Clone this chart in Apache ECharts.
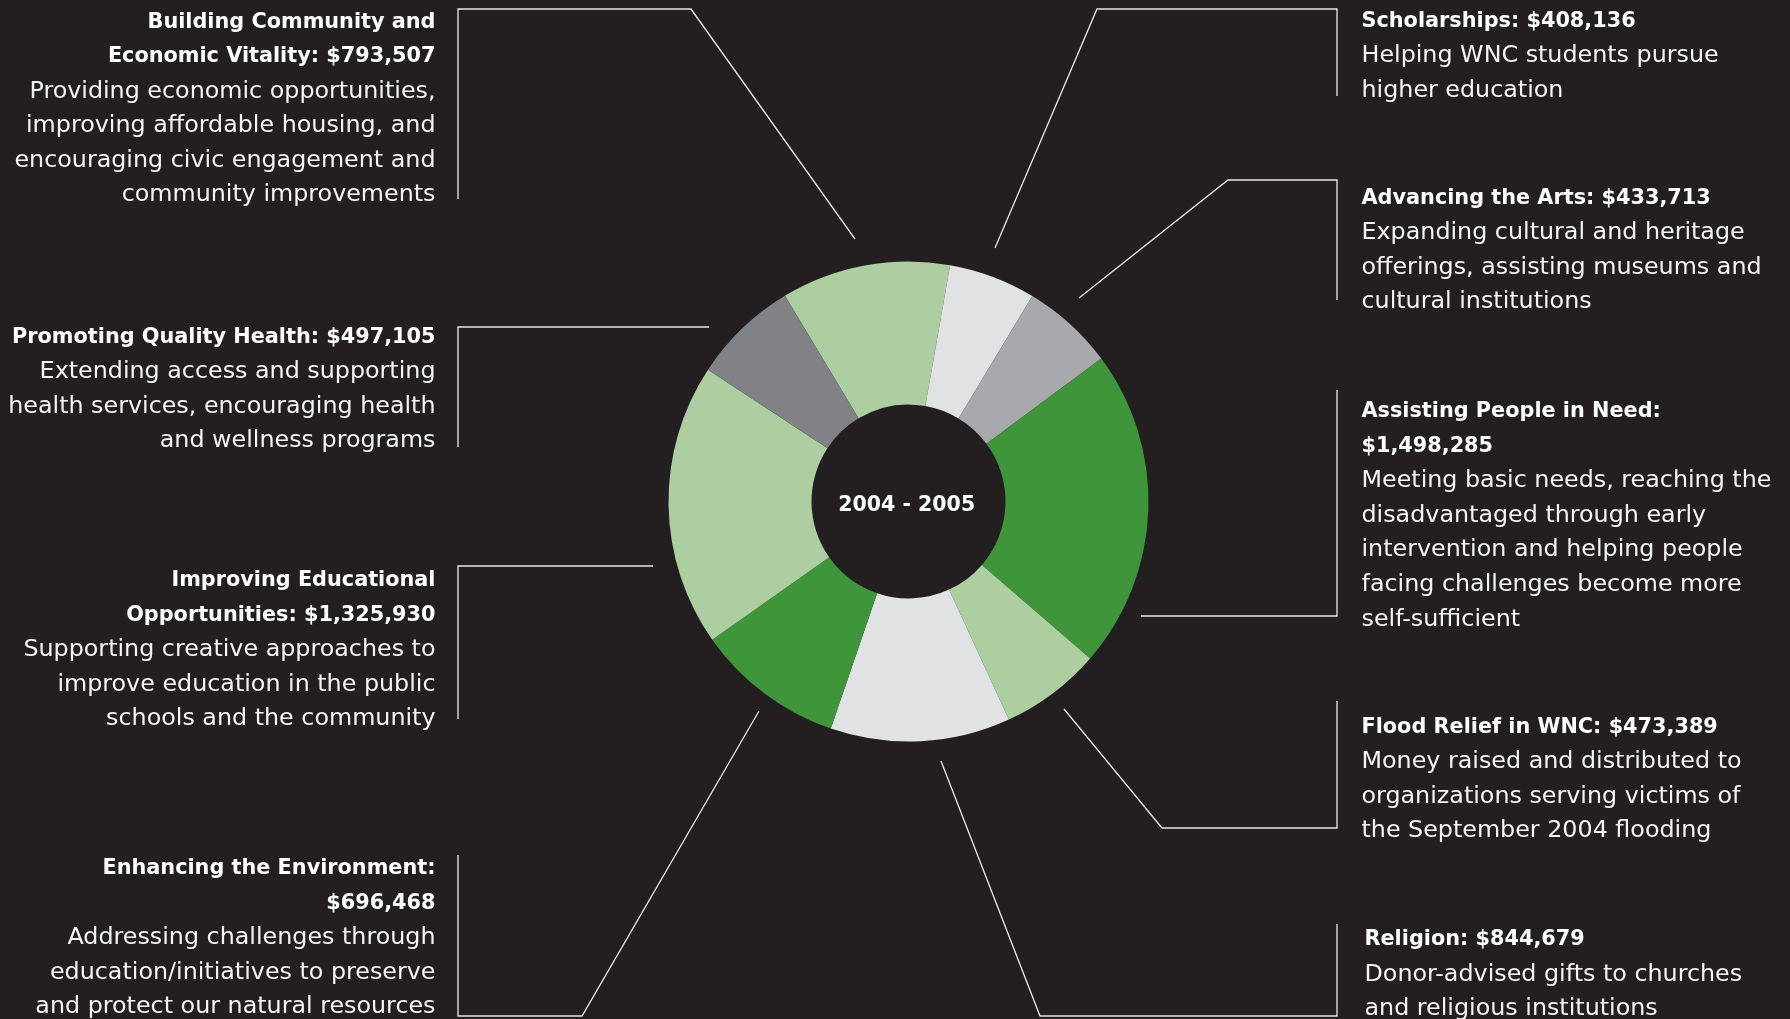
<!DOCTYPE html>
<html>
<head>
<meta charset="utf-8">
<script src="https://cdn.jsdelivr.net/npm/echarts@6/dist/echarts.min.js"></script>
<style>
  html, body { margin: 0; padding: 0; background: #231f20; }
  #chart { width: 1790px; height: 1019px; }
</style>
</head>
<body>
<div id="chart"></div>
<script>
// grant areas, clockwise from the top-left of the ring
const categories = [
  "Building Community and Economic Vitality",
  "Scholarships",
  "Advancing the Arts",
  "Assisting People in Need",
  "Flood Relief in WNC",
  "Religion",
  "Enhancing the Environment",
  "Improving Educational Opportunities",
  "Promoting Quality Health"
];

const amounts = [793507, 408136, 433713, 1498285, 473389, 844679, 696468, 1325930, 497105];

// %v is replaced by the formatted amount
const titles = [
  "Building Community and\nEconomic Vitality: %v",
  "Scholarships: %v",
  "Advancing the Arts: %v",
  "Assisting People in Need:\n%v",
  "Flood Relief in WNC: %v",
  "Religion: %v",
  "Enhancing the Environment:\n%v",
  "Improving Educational\nOpportunities: %v",
  "Promoting Quality Health: %v"
];

const descriptions = [
  ["Providing economic opportunities,", "improving affordable housing, and", "encouraging civic engagement and", "community improvements"],
  ["Helping WNC students pursue", "higher education"],
  ["Expanding cultural and heritage", "offerings, assisting museums and", "cultural institutions"],
  ["Meeting basic needs, reaching the", "disadvantaged through early", "intervention and helping people", "facing challenges become more", "self-sufficient"],
  ["Money raised and distributed to", "organizations serving victims of", "the September 2004 flooding"],
  ["Donor-advised gifts to churches", "and religious institutions"],
  ["Addressing challenges through", "education/initiatives to preserve", "and protect our natural resources"],
  ["Supporting creative approaches to", "improve education in the public", "schools and the community"],
  ["Extending access and supporting", "health services, encouraging health", "and wellness programs"]
];

const yearLabel = "2004 - 2005";

const sliceColors = ["#adcea1", "#e1e2e4", "#a7a9ac", "#3f953a", "#adcea1", "#e1e2e4", "#3f953a", "#adcea1", "#808285"];

// where each label block and its leader line sit
const labelSpots = [
  { align: "right", x: 435.5, y: 5,    line: [[855, 239], [691, 9], [458, 9], [458, 199]] },
  { align: "left",  x: 1361.5, y: 4,   line: [[995, 248], [1097, 9], [1337, 9], [1337, 96]] },
  { align: "left",  x: 1361.5, y: 181, line: [[1079, 298], [1228, 180], [1337, 180], [1337, 300]] },
  { align: "left",  x: 1361.5, y: 394.5, line: [[1141, 616], [1337, 616], [1337, 390]] },
  { align: "left",  x: 1361.5, y: 710, line: [[1064, 709], [1162, 828], [1337, 828], [1337, 701]] },
  { align: "left",  x: 1364.5, y: 922.5, line: [[941, 761], [1040, 1016], [1337, 1016], [1337, 924]] },
  { align: "right", x: 435.5, y: 851.5, line: [[759, 711], [582, 1016], [458, 1016], [458, 855]] },
  { align: "right", x: 435.5, y: 563.5, line: [[653, 566], [458, 566], [458, 719]] },
  { align: "right", x: 435.5, y: 320, line: [[709, 327], [458, 327], [458, 447]] }
];

const FONT = "DejaVu Sans";
const LINE_H = 34.6;

function makeRich(align) {
  return {
    t: { fontFamily: FONT, fontWeight: "bold", fontSize: 20.8, lineHeight: LINE_H, color: "#ffffff", align: align },
    d: { fontFamily: FONT, fontSize: 23.8, lineHeight: LINE_H, color: "#f4f4f4", align: align }
  };
}

function money(v) {
  return "$" + v.toLocaleString("en-US");
}

const pieData = categories.map((name, i) => ({
  name: name,
  value: amounts[i],
  itemStyle: { color: sliceColors[i] },
  label: { align: labelSpots[i].align, rich: makeRich(labelSpots[i].align) }
}));

const chart = echarts.init(document.getElementById("chart"));

chart.setOption({
  backgroundColor: "#231f20",
  animation: false,
  series: [
    {
      type: "pie",
      center: [908.5, 501.5],
      radius: [97, 240],
      startAngle: 121,
      clockwise: true,
      avoidLabelOverlap: false,
      silent: true,
      data: pieData,
      itemStyle: { borderWidth: 0 },
      label: {
        show: true,
        position: "outside",
        formatter: function (p) {
          const head = titles[p.dataIndex].replace("%v", money(p.value)).split("\n");
          const rows = head.map(s => "{t|" + s + "}")
            .concat(descriptions[p.dataIndex].map(s => "{d|" + s + "}"));
          return rows.join("\n");
        }
      },
      labelLine: {
        show: true,
        length: 20,
        length2: 20,
        smooth: false,
        lineStyle: { color: "#e8e8e8", width: 1.3 }
      },
      labelLayout: function (params) {
        const s = labelSpots[params.dataIndex];
        return {
          x: s.x,
          y: s.y,
          align: s.align,
          verticalAlign: "top",
          labelLinePoints: s.line
        };
      }
    }
  ],
  graphic: [
    {
      type: "text",
      z: 100,
      x: 906.7,
      y: 506,
      style: {
        text: yearLabel,
        fontFamily: FONT,
        fontWeight: "bold",
        fontSize: 20.5,
        fill: "#ffffff",
        align: "center",
        verticalAlign: "middle"
      }
    }
  ]
});
</script>
</body>
</html>
